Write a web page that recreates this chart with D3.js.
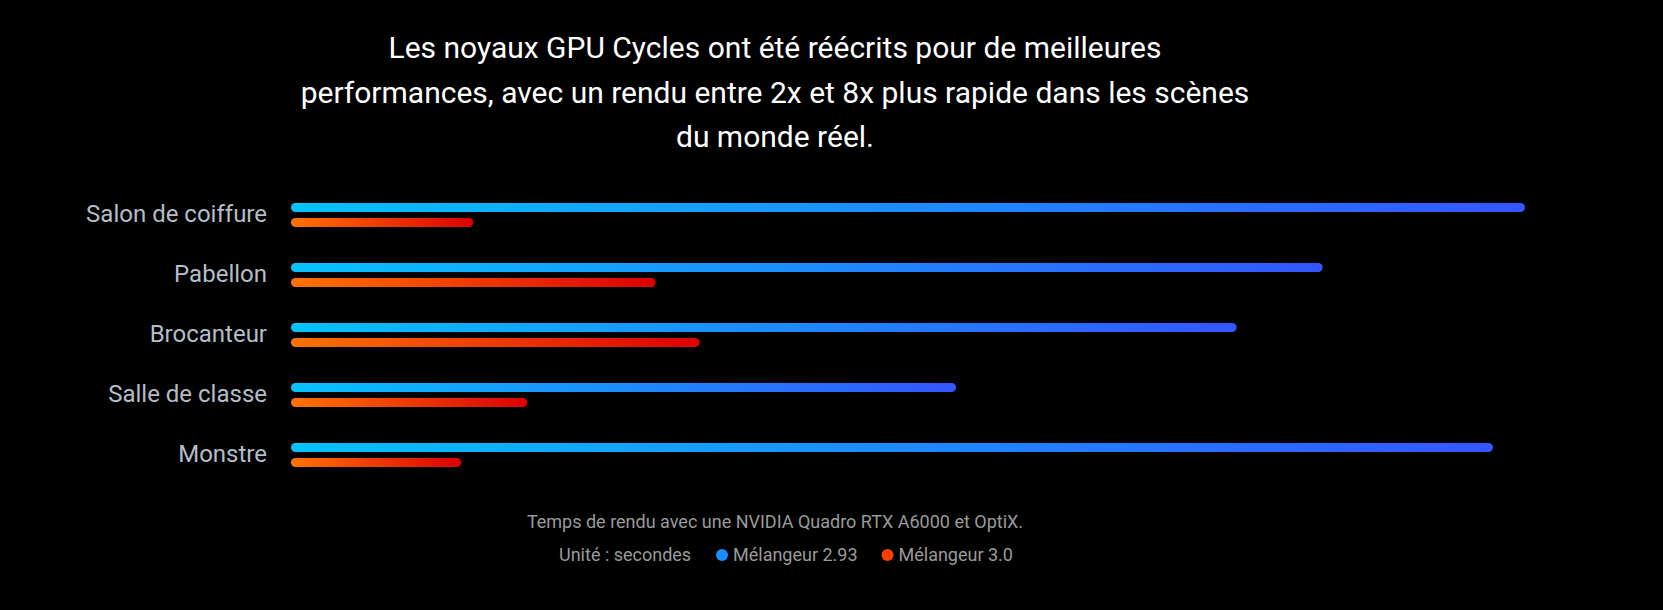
<!DOCTYPE html>
<html><head><meta charset="utf-8">
<script src="https://cdn.jsdelivr.net/npm/d3@7"></script>
<style>html,body{margin:0;padding:0;background:#000;}svg{display:block;}</style>
</head><body>
<script>
const categories = ["Salon de coiffure", "Pabellon", "Brocanteur", "Salle de classe", "Monstre"];
const seriesNames = ["Mélangeur 2.93", "Mélangeur 3.0"];
const v293 = [616, 515, 472, 332, 600];
const v30 = [91, 182, 204, 118, 85];
const titleLines = ["Les noyaux GPU Cycles ont été réécrits pour de meilleures",
  "performances, avec un rendu entre 2x et 8x plus rapide dans les scènes",
  "du monde réel."];
const footnote = "Temps de rendu avec une NVIDIA Quadro RTX A6000 et OptiX.";
const unitLabel = "Unité : secondes";

const W = 1663, H = 610;
const svg = d3.select("body").append("svg").attr("width", W).attr("height", H);
svg.append("rect").attr("width", W).attr("height", H).attr("fill", "#000");

const defs = svg.append("defs");
const gB = defs.append("linearGradient").attr("id", "gBlue");
gB.append("stop").attr("offset", "0%").attr("stop-color", "#06c2ff");
gB.append("stop").attr("offset", "100%").attr("stop-color", "#3356ff");
const gO = defs.append("linearGradient").attr("id", "gOrange");
gO.append("stop").attr("offset", "0%").attr("stop-color", "#ff7300");
gO.append("stop").attr("offset", "100%").attr("stop-color", "#dc0000");

// title
const tc = 775;
svg.append("g").selectAll("text").data(titleLines).join("text")
  .attr("x", tc).attr("y", (d, i) => 58 + i * 44.7)
  .attr("text-anchor", "middle").attr("fill", "#fff")
  .attr("font-family", "Roboto").attr("font-size", 30)
  .text(d => d);

const x = d3.scaleLinear().domain([0, 616]).range([291, 1525]);
const y = d3.scaleBand().domain(categories).range([185, 485]);
const bh = 9;

const g = svg.append("g");
categories.forEach((c, i) => {
  const y0 = y(c) + 18;
  g.append("rect").attr("x", x(0)).attr("y", y0).attr("width", x(v293[i]) - x(0)).attr("height", bh)
    .attr("rx", 4.5).attr("fill", "url(#gBlue)");
  g.append("rect").attr("x", x(0)).attr("y", y0 + 15).attr("width", x(v30[i]) - x(0)).attr("height", bh)
    .attr("rx", 4.5).attr("fill", "url(#gOrange)");
  g.append("text").attr("x", 267).attr("y", y0 + 11).attr("dy", "0.35em")
    .attr("text-anchor", "end").attr("fill", "#b4bdc8")
    .attr("font-family", "Roboto").attr("font-size", 24).text(c);
});

svg.append("text").attr("x", 775).attr("y", 522).attr("dy", "0.35em")
  .attr("text-anchor", "middle").attr("fill", "#9a9a9a")
  .attr("font-family", "Roboto").attr("font-size", 18).text(footnote);

const ly = 555;
svg.append("text").attr("x", 559).attr("y", ly).attr("dy", "0.35em")
  .attr("fill", "#9a9a9a").attr("font-family", "Roboto").attr("font-size", 18).text(unitLabel);
const legendX = [722, 887.5];
const legendC = ["#1a8cff", "#ff4000"];
seriesNames.forEach((s, i) => {
  svg.append("circle").attr("cx", legendX[i]).attr("cy", ly).attr("r", 6).attr("fill", legendC[i]);
  svg.append("text").attr("x", legendX[i] + 11).attr("y", ly).attr("dy", "0.35em")
    .attr("fill", "#9a9a9a").attr("font-family", "Roboto").attr("font-size", 18).text(s);
});
</script>
</body></html>
